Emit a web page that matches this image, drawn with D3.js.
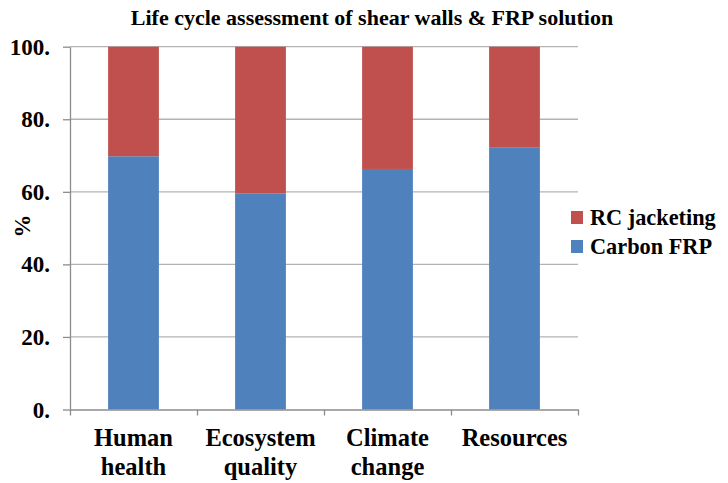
<!DOCTYPE html>
<html><head><meta charset="utf-8">
<script src="https://cdn.jsdelivr.net/npm/d3@7"></script>
<style>
body{margin:0;background:#fff;}
svg text{font-family:"Liberation Serif","Tinos","Times New Roman","Nimbus Roman","DejaVu Serif",serif !important;font-weight:bold;fill:#000;}
</style></head>
<body>
<svg id="c" width="728" height="483"></svg>
<script>
const categories = [["Human","health"],["Ecosystem","quality"],["Climate","change"],["Resources"]];
const carbonFRP = [69.8, 59.6, 66.3, 72.3];
const rcJacketing = [30.2, 40.4, 33.7, 27.7];
const yTicks = [0,20,40,60,80,100];
const yTickLabels = ["0.","20.","40.","60.","80.","100."];
const seriesNames = ["RC jacketing","Carbon FRP"];
const colors = {"Carbon FRP":"#4F81BD","RC jacketing":"#C0504D"};
const title = "Life cycle assessment of shear walls & FRP solution";

const svg = d3.select("#c");
const m = {l:70, r:150, t:46.7, b:73.5};
const x = d3.scaleBand().domain(d3.range(categories.length)).range([m.l, 578]).paddingInner(0.6).paddingOuter(0.3);
const y = d3.scaleLinear().domain([0,100]).range([409.5, 46.7]);

svg.append("g").selectAll("line").data(yTicks.filter(d=>d>0)).join("line")
  .attr("x1",m.l).attr("x2",578).attr("y1",d=>y(d)).attr("y2",d=>y(d))
  .attr("stroke","#b3b3b3").attr("stroke-width",1.3);

const stack = categories.map((c,i)=>({i, frp:carbonFRP[i], rc:rcJacketing[i]}));
const g = svg.append("g");
g.selectAll("rect.frp").data(stack).join("rect").attr("class","frp")
  .attr("x",d=>x(d.i)).attr("width",x.bandwidth())
  .attr("y",d=>y(d.frp)).attr("height",d=>y(0)-y(d.frp)).attr("fill",colors["Carbon FRP"]);
g.selectAll("rect.rc").data(stack).join("rect").attr("class","rc")
  .attr("x",d=>x(d.i)).attr("width",x.bandwidth())
  .attr("y",d=>y(d.frp+d.rc)).attr("height",d=>y(d.frp)-y(d.frp+d.rc)).attr("fill",colors["RC jacketing"]);

const ya = svg.append("g").attr("transform",`translate(${m.l},0)`)
  .call(d3.axisLeft(y).tickValues(yTicks).tickFormat((d,i)=>yTickLabels[i]).tickSize(7).tickSizeOuter(0));
ya.attr("font-family",null).attr("font-size",null);
ya.select(".domain").attr("stroke","#8c8c8c").attr("stroke-width",1.3);
ya.selectAll(".tick line").attr("stroke","#8c8c8c").attr("stroke-width",1.3);
ya.selectAll(".tick text").attr("x",-20).attr("dy","0.33em").attr("fill","#000").style("font-size","23px");

const xb = d3.scaleLinear().domain([0,categories.length]).range([m.l,578]);
const xa = svg.append("g").attr("transform",`translate(0,${y(0)})`)
  .call(d3.axisBottom(xb).tickValues(d3.range(categories.length+1)).tickFormat("").tickSize(6).tickSizeOuter(0));
xa.select(".domain").attr("stroke","#8c8c8c").attr("stroke-width",1.3);
xa.selectAll(".tick line").attr("stroke","#8c8c8c").attr("stroke-width",1.3);

const cl = svg.append("g").selectAll("text").data(categories).join("text")
  .attr("text-anchor","middle").style("font-size","24.5px")
  .attr("transform",(d,i)=>`translate(${x(i)+x.bandwidth()/2},446)`);
cl.selectAll("tspan").data(d=>d).join("tspan").attr("x",0).attr("y",(d,j)=>j*29).text(d=>d);

svg.append("text").attr("transform","translate(30,226) rotate(-90)").attr("text-anchor","middle")
  .style("font-size","23px").text("%");

svg.append("text").attr("x",372).attr("y",25).attr("text-anchor","middle").style("font-size","22px").text(title);

const lg = svg.append("g").selectAll("g").data(seriesNames).join("g")
  .attr("transform",(d,i)=>`translate(571,${211+i*29})`);
lg.append("rect").attr("width",12).attr("height",13).attr("fill",d=>colors[d]);
lg.append("text").attr("x",19).attr("y",14).style("font-size","22.3px").text(d=>d);
</script>
</body></html>
